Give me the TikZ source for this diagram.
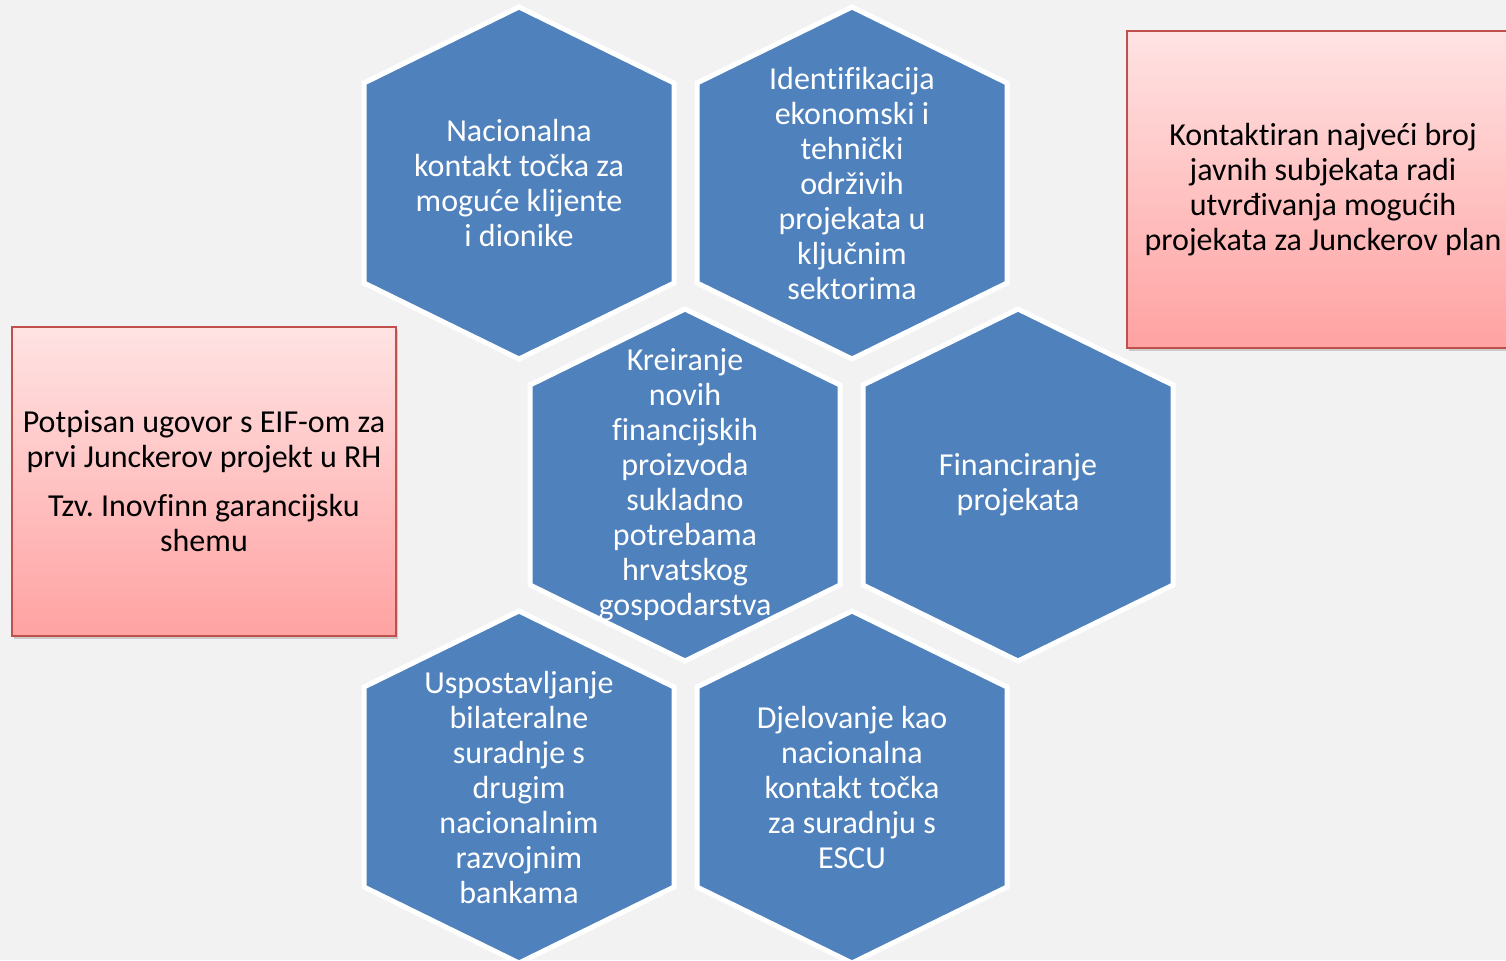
\documentclass[tikz,border=0pt]{standalone}
\usepackage{fontspec}
\setmainfont{Carlito}[Ligatures=NoCommon]
\frenchspacing
\usetikzlibrary{backgrounds,shadows}

\definecolor{hexblue}{HTML}{4F81BD}
\definecolor{bggray}{HTML}{F2F2F2}
\definecolor{boxred}{HTML}{C0504D}
\definecolor{pinktop}{HTML}{FFE3E3}
\definecolor{pinkbot}{HTML}{FFA2A2}

% hexagon outline round a centre, in pixel units
\newcommand{\hexpath}{+(0,-176) -- +(155,-100) -- +(155,100) -- +(0,176) -- +(-155,100) -- +(-155,-100) -- cycle}

\tikzstyle{hexfill} = [fill=hexblue, draw=white, line width=2.5pt, line join=miter]
\tikzstyle{hextext} = [text=white, align=center, inner sep=0pt, font=\fontsize{16}{17.5}\selectfont]
\tikzstyle{note} = [rectangle, draw=boxred, line width=1pt, top color=pinktop, bottom color=pinkbot, text=black, align=center, font=\fontsize{16}{17.5}\selectfont, drop shadow={shadow xshift=1pt, shadow yshift=-1.5pt, opacity=0.35}]

\begin{document}
\begin{tikzpicture}[x=0.5pt, y=-0.5pt]
\useasboundingbox (0,0) rectangle (1506,960);
\clip (0,0) rectangle (1506,960);

\node[hextext] (contact) at (519,183) {Nacionalna\\kontakt točka za\\moguće klijente\\i dionike};
\node[hextext] (identify) at (852,183) {Identifikacija\\ekonomski i\\tehnički\\održivih\\projekata u\\ključnim\\sektorima};
\node[hextext] (products) at (685,485) {Kreiranje\\novih\\financijskih\\proizvoda\\sukladno\\potrebama\\hrvatskog\\gospodarstva};
\node[hextext] (funding) at (1018,485) {Financiranje\\projekata};
\node[hextext] (banks) at (519,787) {Uspostavljanje\\bilateralne\\suradnje s\\drugim\\nacionalnim\\razvojnim\\bankama};
\node[hextext] (escu) at (852,787) {Djelovanje kao\\nacionalna\\kontakt točka\\za suradnju s\\ESCU};

\begin{scope}[on background layer]
\fill[bggray] (0,0) rectangle (1506,960);
\filldraw[hexfill] (contact.center) \hexpath;
\filldraw[hexfill] (identify.center) \hexpath;
\filldraw[hexfill] (products.center) \hexpath;
\filldraw[hexfill] (funding.center) \hexpath;
\filldraw[hexfill] (banks.center) \hexpath;
\filldraw[hexfill] (escu.center) \hexpath;
\end{scope}

\node[note, minimum width=192pt, minimum height=154.5pt] (eif) at (204,481.5) {Potpisan ugovor s EIF-om za\\prvi Junckerov projekt u RH\\[7pt]Tzv. Inovfinn garancijsku\\shemu};
\node[note, minimum width=196pt, minimum height=158.5pt] (juncker) at (1323,189.5) {Kontaktiran najveći broj\\javnih subjekata radi\\utvrđivanja mogućih\\projekata za Junckerov plan};

\end{tikzpicture}
\end{document}
